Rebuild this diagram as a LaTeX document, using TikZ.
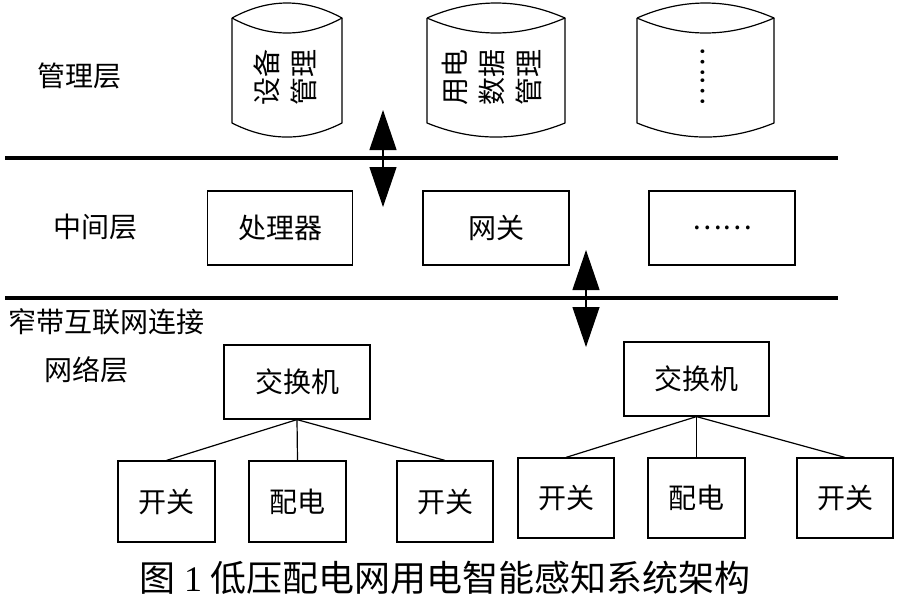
\documentclass[tikz,border=0pt]{standalone}
\usepackage{fontspec}
\setmainfont{Noto Sans CJK SC}
\newfontfamily\latinserif{Liberation Serif}
\usetikzlibrary{arrows.meta}
\newcommand\mycyl[2]{%
  \pgfmathsetmacro\cylA{#1+(#2-#1)/3}%
  \pgfmathsetmacro\cylB{#1+2*(#2-#1)/3}%
  \draw[cylline] (#1,18) .. controls (\cylA,-2) and (\cylB,-2) .. (#2,18)
    .. controls (\cylB,38) and (\cylA,38) .. (#1,18);
  \draw[cylline] (#1,18) -- (#1,123) .. controls (\cylA,141.7) and (\cylB,141.7) .. (#2,123) -- (#2,18);}
\begin{document}
\begin{tikzpicture}[x=1pt,y=-1pt,
  cylline/.style={line width=1.2pt,line join=round},
  sep/.style={line width=3.6pt},
  box/.style={draw,line width=1.2pt,inner sep=0pt},
  lbl/.style={font=\fontsize{28}{30}\selectfont,inner sep=0pt},
  cyltext/.style={rotate=90,align=center,font=\fontsize{28}{37}\selectfont,inner sep=0pt},
  conn/.style={line width=1.2pt},
  dbl/.style={line width=1.2pt,{Triangle[length=40pt,width=27pt]}-{Triangle[length=40pt,width=27pt]}}]
\useasboundingbox (0,0) rectangle (899,598);
% separators
\coordinate (s1a) at (5,158); \coordinate (s1b) at (838,158);
\coordinate (s2a) at (5,298); \coordinate (s2b) at (838,298);
\draw[sep] (s1a) -- (s1b);
\draw[sep] (s2a) -- (s2b);
% layer labels
\node[lbl] (lmgmt) at (79,76) {管理层};
\node[lbl] (lmid) at (95,227) {中间层};
\node[lbl] (lnb) at (107,322) {窄带互联网连接};
\node[lbl] (lnet) at (86,370) {网络层};
% cylinders
\mycyl{232}{342}
\mycyl{427}{565}
\mycyl{637}{774}
\node[cyltext] (cy1) at (285,77) {设备\\管理};
\node[cyltext] (cy2) at (492,77) {用电\\数据\\管理};
\node[cyltext] (cy3) at (703,77) {……};
% middle layer
\node[box,lbl,minimum width=145pt,minimum height=74pt,draw] (proc) at (280,228) {处理器};
\node[box,lbl,minimum width=146pt,minimum height=74pt,draw] (gw) at (496,228) {网关};
\node[box,lbl,minimum width=146pt,minimum height=74pt,draw] (more) at (722,228) {……};
% arrows
\coordinate (a1t) at (383,110); \coordinate (a1b) at (383,207);
\coordinate (a2t) at (586,250); \coordinate (a2b) at (586,347);
\draw[dbl] (a1t) -- (a1b);
\draw[dbl] (a2t) -- (a2b);
% network layer
\node[box,lbl,minimum width=146pt,minimum height=74pt,draw] (sw1) at (297,382) {交换机};
\node[box,lbl,minimum width=145pt,minimum height=74pt,draw] (sw2) at (696.5,379) {交换机};
\node[box,lbl,minimum width=97pt,minimum height=81pt,draw] (c1a) at (166.5,501.5) {开关};
\node[box,lbl,minimum width=97pt,minimum height=81pt,draw] (c1b) at (297.5,501.5) {配电};
\node[box,lbl,minimum width=96pt,minimum height=81pt,draw] (c1c) at (445,501.5) {开关};
\node[box,lbl,minimum width=96pt,minimum height=80pt,draw] (c2a) at (566,498) {开关};
\node[box,lbl,minimum width=97pt,minimum height=80pt,draw] (c2b) at (696.5,498) {配电};
\node[box,lbl,minimum width=96pt,minimum height=80pt,draw] (c2c) at (845,498) {开关};
\draw[conn] (sw1.south) -- (c1a.north);
\draw[conn] (sw1.south) -- (c1b.north);
\draw[conn] (sw1.south) -- (c1c.north);
\draw[conn] (sw2.south) -- (c2a.north);
\draw[conn] (sw2.south) -- (c2b.north);
\draw[conn] (sw2.south) -- (c2c.north);
% caption
\node[inner sep=0pt,font=\fontsize{36}{40}\selectfont] (cap) at (445,578) {图 {\latinserif 1} 低压配电网用电智能感知系统架构};
\end{tikzpicture}
\end{document}
